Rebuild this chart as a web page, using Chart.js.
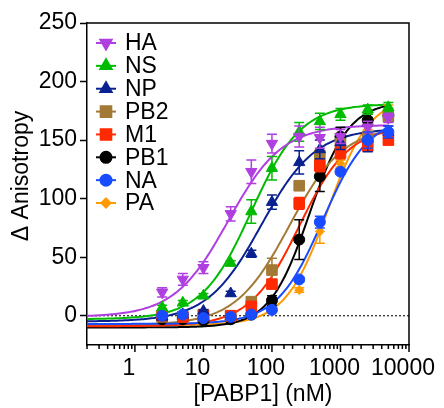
<!DOCTYPE html>
<html>
<head>
<meta charset="utf-8">
<script src="https://cdn.jsdelivr.net/npm/chart.js@4.4.0/dist/chart.umd.min.js"></script>
<style>
  html, body { margin: 0; padding: 0; background: #fff; }
  #wrap { width: 444px; height: 408px; }
</style>
</head>
<body>
<div id="wrap"><canvas id="chart" width="444" height="408"></canvas></div>
<script>
// [PABP1] concentrations, nM
const conc = [2.5, 5, 10, 25, 50, 100, 250, 500, 1000, 2500, 5000];

const proteins = ['HA', 'NS', 'NP', 'PB2', 'M1', 'PB1', 'NA', 'PA'];

// mean delta anisotropy
const haValues  = [20, 31, 41, 87, 123, 147, 153, 152, 153, 161, 169];
const nsValues  = [7, 11, 17, 45, 89, 126, 157, 166, 172, 176, 178];
const npValues  = [-1, 1, 4, 19, 53, 97, 131, 142, 148, 151, 157];
const pb2Values = [-1, -1, 1, 0, 12, 39, 111, 137, 147, 153, 170];
const m1Values  = [0, -1, 0, 0, 8, 27, 96, 128, 139, 145, 150];
const pb1Values = [-3, -3, -4, -3, 1, 13, 65, 119, 153, 167, 171];
const naValues  = [0, 1, -2, -1, 1, 5, 31, 80, 123, 150, 157];
const paValues  = [-1, -1, -2, -1, 0, 4, 22, 72, 130, 156, 177];

// error bars (+/-)
const haErr  = [4, 5, 5, 6, 10, 8, 9, 9, 6, 5, 4];
const nsErr  = [2, 2, 2, 2, 10, 10, 8, 7, 5, 4, 4];
const npErr  = [1, 1, 1, 2, 3, 6, 10, 8, 6, 11, 5];
const pb2Err = [1, 1, 1, 1, 2, 10, 3, 4, 3, 3, 4];
const m1Err  = [1, 1, 1, 1, 2, 3, 5, 5, 5, 4, 3];
const pb1Err = [1, 1, 1, 1, 1, 4, 17, 13, 8, 5, 4];
const naErr  = [1, 1, 1, 1, 1, 1, 2, 5, 2, 7, 5];
const paErr  = [1, 1, 1, 1, 1, 1, 2, 10, 3, 3, 3];

// sigmoidal fit parameters per protein (bottom, top, EC50 nM, hill)
const fitBottom = [-1, -3, -5, -8, -9, -10, -7, -8];
const fitTop    = [163, 181, 160, 162, 162, 183, 170, 188];
const fitEc50   = [23, 50, 70, 180, 250, 350, 550, 650];
const fitHill   = [1.1, 1.2, 1.1, 1.1, 1.2, 1.5, 1.3, 1.4];
const fitRange  = [0.2, 5000];

const yTicks = [0, 50, 100, 150, 200, 250];
const xTickLabels = [1, 10, 100, 1000, 10000];

const values = [haValues, nsValues, npValues, pb2Values, m1Values, pb1Values, naValues, paValues];
const errors = [haErr, nsErr, npErr, pb2Err, m1Err, pb1Err, naErr, paErr];

const colors = ['#b03fe0', '#00bb00', '#0a2290', '#a27a35', '#ff2a00', '#000000', '#1a4cff', '#ff9a00'];
const styles = ['triangle', 'triangle', 'triangle', 'rect', 'rect', 'circle', 'circle', 'rectRot'];
const rotations = [180, 0, 0, 0, 0, 0, 0, 0];
const radii = [6.5, 6.5, 6.5, 7.5, 7.5, 5.5, 5.5, 4.5];
const stackOrder = [1, 2, 3, 5, 4, 6, 0, 7];

const FONT = '"Liberation Sans", Arial, Helvetica, sans-serif';
Chart.defaults.font.family = FONT;
Chart.defaults.color = '#000';

function fitCurve(i) {
    const pts = [];
    const lo = Math.log10(fitRange[0]), hi = Math.log10(fitRange[1]);
    for (let k = 0; k <= 160; k++) {
        const x = Math.pow(10, lo + (hi - lo) * k / 160);
        const r = Math.pow(x / fitEc50[i], fitHill[i]);
        pts.push({x: x, y: fitBottom[i] + (fitTop[i] - fitBottom[i]) * r / (1 + r)});
    }
    return pts;
}

const datasets = [];
proteins.forEach((name, i) => {
    datasets.push({
        type: 'scatter',
        label: name,
        data: conc.map((c, k) => ({x: c, y: values[i][k]})),
        errors: errors[i],
        backgroundColor: colors[i],
        borderColor: colors[i],
        pointStyle: styles[i],
        rotation: rotations[i],
        pointRadius: radii[i],
        pointBorderWidth: 1,
        showLine: false,
        order: stackOrder[i],
        clip: false
    });
});
proteins.forEach((name, i) => {
    datasets.push({
        type: 'line',
        label: name + ' fit',
        data: fitCurve(i),
        borderColor: colors[i],
        borderWidth: 2,
        pointRadius: 0,
        fill: false,
        tension: 0,
        order: 20 + stackOrder[i]
    });
});

const errorBars = {
    id: 'errorBars',
    beforeDatasetDraw(chart, args) {
        const ds = chart.data.datasets[args.index];
        if (!ds.errors) return;
        const ys = chart.scales.y;
        const ctx = chart.ctx;
        ctx.save();
        ctx.strokeStyle = ds.borderColor;
        ctx.lineWidth = 1.5;
        args.meta.data.forEach((pt, k) => {
            const v = ds.data[k].y, e = ds.errors[k];
            const y1 = ys.getPixelForValue(v + e), y2 = ys.getPixelForValue(v - e);
            ctx.beginPath();
            ctx.moveTo(pt.x, y1); ctx.lineTo(pt.x, y2);
            ctx.moveTo(pt.x - 5, y1); ctx.lineTo(pt.x + 5, y1);
            ctx.moveTo(pt.x - 5, y2); ctx.lineTo(pt.x + 5, y2);
            ctx.stroke();
        });
        ctx.restore();
    }
};

const frame = {
    id: 'frame',
    beforeDatasetsDraw(chart) {
        const {ctx, chartArea: a, scales} = chart;
        const y0 = scales.y.getPixelForValue(0);
        ctx.save();
        ctx.strokeStyle = '#222';
        ctx.lineWidth = 1.2;
        ctx.setLineDash([2, 2]);
        ctx.beginPath();
        ctx.moveTo(a.left, y0); ctx.lineTo(a.right, y0);
        ctx.stroke();
        ctx.restore();
    },
    afterDraw(chart) {
        const {ctx, chartArea: a, scales} = chart;
        ctx.save();
        ctx.strokeStyle = '#000';
        ctx.lineWidth = 1.5;
        ctx.beginPath();
        ctx.moveTo(a.left, a.top); ctx.lineTo(a.right, a.top); ctx.lineTo(a.right, a.bottom);
        ctx.stroke();
        // log ticks on x axis: long for decades, short for the rest
        const xs = scales.x;
        ctx.beginPath();
        xs.ticks.forEach(t => {
            const px = xs.getPixelForValue(t.value);
            const major = xTickLabels.includes(t.value);
            ctx.moveTo(px, a.bottom);
            ctx.lineTo(px, a.bottom + (major ? 7 : 4));
        });
        ctx.stroke();
        // axis titles
        ctx.fillStyle = '#000';
        ctx.font = '23px ' + FONT;
        ctx.textAlign = 'center';
        ctx.textBaseline = 'middle';
        ctx.fillText('[PABP1] (nM)', 263, 395);
        ctx.translate(22, 176);
        ctx.rotate(-Math.PI / 2);
        ctx.fillText('\u0394 Anisotropy', 0, 0);
        ctx.restore();
    }
};

const legendBox = {
    id: 'legendBox',
    afterDraw(chart) {
        const ctx = chart.ctx;
        ctx.save();
        ctx.font = '23px ' + FONT;
        ctx.textBaseline = 'middle';
        ctx.textAlign = 'left';
        proteins.forEach((name, i) => {
            const ds = chart.data.datasets[i];
            const y = 43 + i * 22.86;
            ctx.strokeStyle = ds.borderColor;
            ctx.fillStyle = ds.backgroundColor;
            ctx.lineWidth = 2;
            ctx.beginPath();
            ctx.moveTo(96, y); ctx.lineTo(116, y);
            ctx.stroke();
            Chart.helpers.drawPoint(ctx, {
                pointStyle: ds.pointStyle, rotation: ds.rotation,
                radius: ds.pointRadius, borderWidth: 1
            }, 106, y);
            ctx.fillStyle = '#000';
            ctx.fillText(name, 125, y + 1);
        });
        ctx.restore();
    }
};

new Chart(document.getElementById('chart'), {
    type: 'scatter',
    data: {datasets: datasets},
    options: {
        responsive: false,
        animation: false,
        devicePixelRatio: 1,
        layout: {padding: {top: 23, right: 35, left: 0, bottom: 0}},
        plugins: {legend: {display: false}, tooltip: {enabled: false}},
        scales: {
            x: {
                type: 'logarithmic',
                min: 0.2,
                max: 10000,
                afterFit: s => { s.height = 63; },
                grid: {display: false},
                border: {display: true, color: '#000', width: 1.5},
                ticks: {
                    autoSkip: false,
                    maxRotation: 0,
                    padding: 2,
                    labelOffset: -6,
                    font: {size: 23},
                    callback: v => xTickLabels.includes(v) ? String(v) : ''
                }
            },
            y: {
                min: -25,
                max: 250,
                afterFit: s => { s.width = 87; },
                afterBuildTicks: s => { s.ticks = yTicks.map(v => ({value: v})); },
                grid: {drawOnChartArea: false, drawTicks: true, tickLength: 7, tickWidth: 1.5, tickColor: '#000'},
                border: {display: true, color: '#000', width: 1.5},
                ticks: {padding: 3, font: {size: 23}}
            }
        }
    },
    plugins: [errorBars, frame, legendBox]
});
</script>
</body>
</html>
